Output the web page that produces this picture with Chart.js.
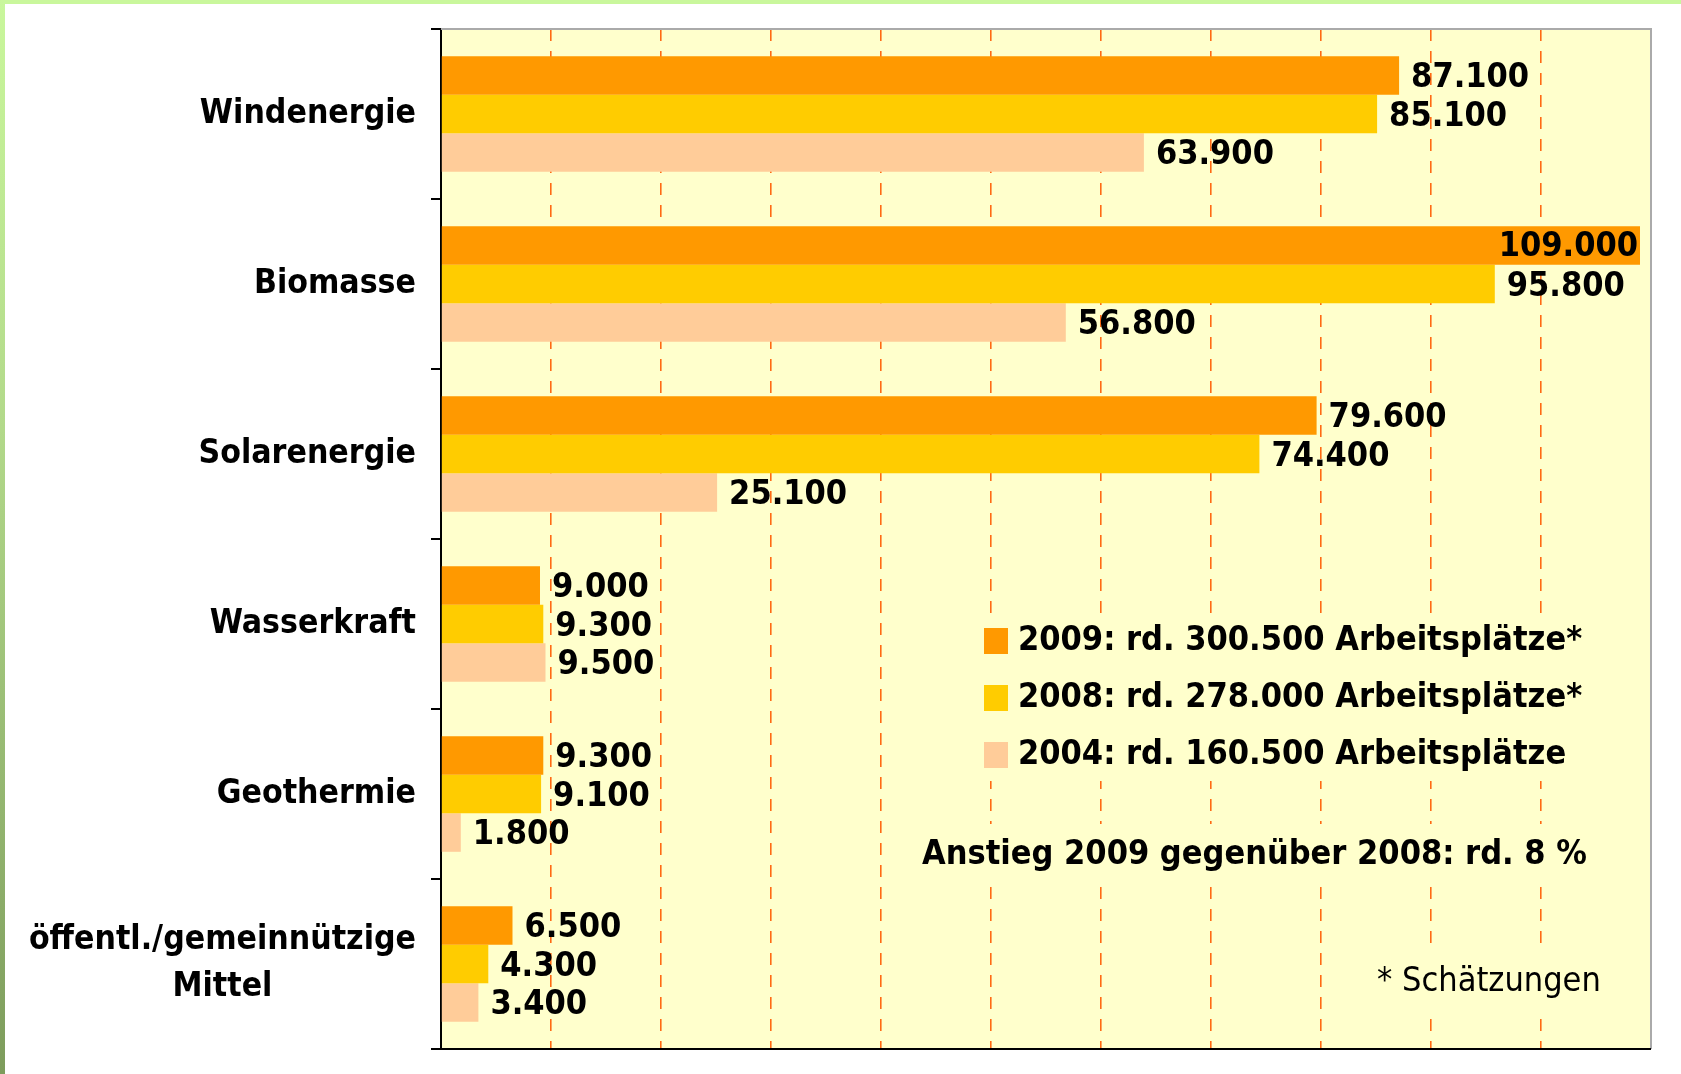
<!DOCTYPE html>
<html>
<head>
<meta charset="utf-8">
<script src="https://cdn.jsdelivr.net/npm/chart.js@4.4.1/dist/chart.umd.min.js"></script>
<style>
  html, body { margin: 0; padding: 0; background: #fff; }
  #wrap { position: relative; width: 1681px; height: 1074px; overflow: hidden; }
  #topEdge { position: absolute; left: 0; top: 0; width: 1681px; height: 4px; background: #c9f79c; }
  #leftEdge { position: absolute; left: 0; top: 0; width: 5px; height: 1074px;
    background: linear-gradient(to bottom, #c9f79c 0%, #b2d98a 40%, #7d9c5c 100%); }
</style>
</head>
<body>
<div id="wrap">
  <canvas id="chart" width="1681" height="1074"></canvas>
  <div id="topEdge"></div>
  <div id="leftEdge"></div>
</div>
<script>
const categories = ['Windenergie', 'Biomasse', 'Solarenergie', 'Wasserkraft', 'Geothermie', ['öffentl./gemeinnützige', 'Mittel']];
const jobs2009 = [87100, 109000, 79600, 9000, 9300, 6500];
const jobs2008 = [85100, 95800, 74400, 9300, 9100, 4300];
const jobs2004 = [63900, 56800, 25100, 9500, 1800, 3400];
const seriesLabels = ['2009: rd. 300.500 Arbeitsplätze*', '2008: rd. 278.000 Arbeitsplätze*', '2004: rd. 160.500 Arbeitsplätze'];
const noteIncrease = 'Anstieg 2009 gegenüber 2008: rd. 8 %';
const noteEstimate = '* Schätzungen';
const xMax = 110000;
const xStep = 10000;

const FONT = '"DejaVu Sans Condensed", "DejaVu Sans", sans-serif';
const bold = (px) => `bold ${px}px ${FONT}`;
const fmt = (v) => String(v).replace(/\B(?=(\d{3})+(?!\d))/g, '.');

const overlayPlugin = {
  id: 'overlay',
  beforeDraw(chart) {
    const {ctx, chartArea: a} = chart;
    ctx.save();
    ctx.fillStyle = '#ffffcc';
    ctx.fillRect(a.left, a.top, a.right - a.left, a.bottom - a.top);
    ctx.restore();
  },
  afterDatasetsDraw(chart) {
    const {ctx, chartArea: a} = chart;
    const yScale = chart.scales.y;
    ctx.save();

    // frame
    ctx.strokeStyle = '#aaaaaa';
    ctx.lineWidth = 2;
    ctx.beginPath();
    ctx.moveTo(a.left, a.top);
    ctx.lineTo(a.right, a.top);
    ctx.lineTo(a.right, a.bottom);
    ctx.stroke();
    ctx.strokeStyle = '#000';
    ctx.beginPath();
    ctx.moveTo(a.left - 10, a.bottom);
    ctx.lineTo(a.right, a.bottom);
    ctx.stroke();

    // value labels
    ctx.font = bold(34);
    ctx.fillStyle = '#000';
    ctx.textBaseline = 'middle';
    chart.data.datasets.forEach((ds, di) => {
      chart.getDatasetMeta(di).data.forEach((bar, i) => {
        const txt = fmt(ds.data[i]);
        const w = ctx.measureText(txt).width;
        if (bar.x + 12 + w > a.right) {
          ctx.textAlign = 'right';
          ctx.fillText(txt, bar.x - 2, bar.y + 2);
        } else {
          ctx.textAlign = 'left';
          ctx.fillText(txt, bar.x + 12, bar.y + 3);
        }
      });
    });

    // category labels
    ctx.font = bold(33.5);
    ctx.textAlign = 'center';
    categories.forEach((c, i) => {
      const lines = Array.isArray(c) ? c : [c];
      const maxW = Math.max(...lines.map(l => ctx.measureText(l).width));
      const cx = a.left - 25 - maxW / 2;
      const cy = yScale.getPixelForValue(i);
      const lh = 47;
      lines.forEach((l, k) => {
        ctx.fillText(l, cx, cy + (k - (lines.length - 1) / 2) * lh);
      });
    });

    // legend box
    const lx = a.left + 530;
    const ly = a.top + 584;
    ctx.fillStyle = '#ffffcc';
    ctx.fillRect(lx, ly, 660, 168);
    chart.data.datasets.forEach((ds, di) => {
      const rowY = ly + 28 + di * 57;
      ctx.fillStyle = ds.backgroundColor;
      ctx.fillRect(lx + 13, rowY - 13, 24, 26);
      ctx.fillStyle = '#000';
      ctx.font = bold(34);
      ctx.textAlign = 'left';
      ctx.fillText(seriesLabels[di], lx + 47, rowY);
    });

    // notes
    ctx.fillStyle = '#ffffcc';
    ctx.fillRect(a.left + 475, a.top + 795, 730, 62);
    ctx.fillRect(a.left + 925, a.top + 920, 260, 62);
    ctx.fillStyle = '#000';
    ctx.font = bold(34);
    ctx.textAlign = 'left';
    ctx.fillText(noteIncrease, a.left + 481, a.top + 826);
    ctx.font = `34px ${FONT}`;
    ctx.fillText(noteEstimate, a.left + 936, a.top + 953);
    ctx.restore();
  }
};

const ctx = document.getElementById('chart').getContext('2d');
new Chart(ctx, {
  type: 'bar',
  data: {
    labels: categories,
    datasets: [
      { label: seriesLabels[0], data: jobs2009, backgroundColor: '#ff9900' },
      { label: seriesLabels[1], data: jobs2008, backgroundColor: '#ffcc00' },
      { label: seriesLabels[2], data: jobs2004, backgroundColor: '#ffcc99' }
    ]
  },
  options: {
    indexAxis: 'y',
    responsive: false,
    animation: false,
    devicePixelRatio: 1,
    layout: { padding: { top: 29, right: 30, bottom: 25, left: 0 } },
    datasets: { bar: { barPercentage: 1, categoryPercentage: 0.68, borderWidth: 0 } },
    plugins: { legend: { display: false }, tooltip: { enabled: false } },
    scales: {
      x: {
        min: 0,
        max: xMax,
        ticks: { display: false, stepSize: xStep },
        border: { display: false, dash: [12, 10] },
        grid: {
          drawTicks: false,
          lineWidth: 1.6,
          color: (c) => (c.tick && (c.tick.value === 0 || c.tick.value === xMax)) ? 'rgba(0,0,0,0)' : '#ff6a13',
        },
        afterFit: (s) => { s.height = 0; }
      },
      y: {
        ticks: { display: false },
        border: { display: true, color: '#000', width: 2 },
        grid: { offset: true, drawOnChartArea: false, drawTicks: true, tickLength: 10, color: '#000', lineWidth: 2 },
        afterFit: (s) => { s.width = 441; }
      }
    }
  },
  plugins: [overlayPlugin]
});
</script>
</body>
</html>
